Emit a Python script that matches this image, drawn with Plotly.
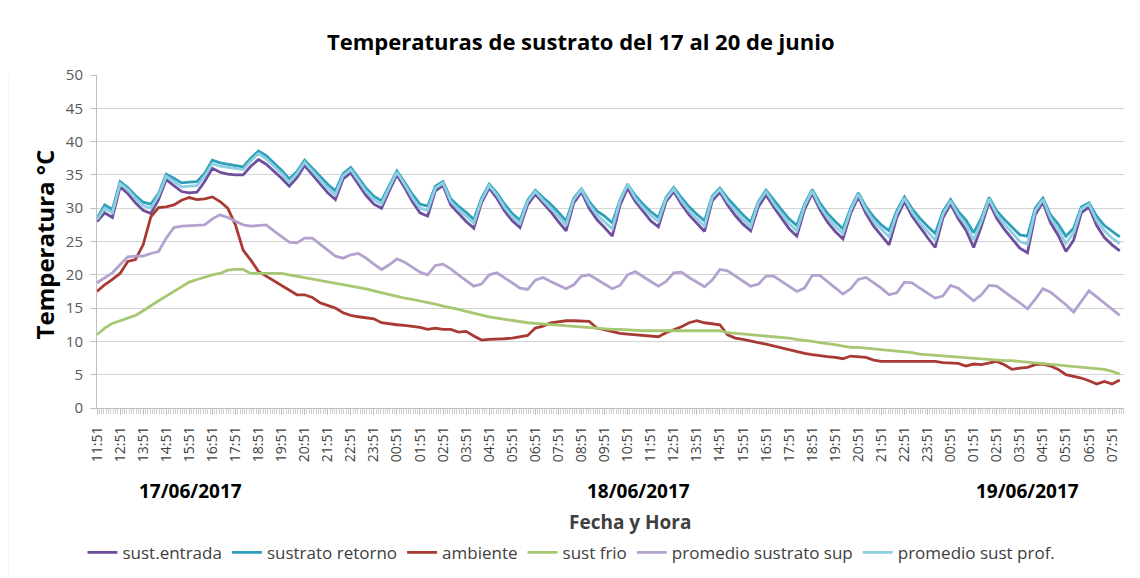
import pandas as pd
import plotly.graph_objects as go

# 20-minute samples starting 17/06/2017 11:51
start_time = "2017-06-17 11:51"
n_points = 134
times = pd.date_range(start_time, periods=n_points, freq="20min")

sust_entrada = [
    28.0, 29.3, 28.6, 33.2, 32.2, 30.8, 29.7, 29.2, 31.3, 34.3,
    33.4, 32.5, 32.3, 32.4, 34.0, 36.0, 35.4, 35.1, 35.0, 35.0,
    36.3, 37.3, 36.6, 35.6, 34.5, 33.3, 34.6, 36.4, 35.0, 33.7,
    32.3, 31.3, 34.4, 35.3, 33.5, 31.9, 30.6, 30.0, 32.6, 35.0,
    33.1, 31.0, 29.3, 28.8, 32.6, 33.4, 30.5, 29.2, 28.0, 27.0,
    30.8, 33.0, 31.5, 29.6, 28.1, 27.1, 30.5, 32.1, 30.8, 29.5,
    28.0, 26.6, 30.8, 32.4, 30.0, 28.3, 27.1, 25.8, 30.4, 33.0,
    31.0, 29.5, 28.1, 27.2, 31.0, 32.5, 30.6, 29.0, 27.7, 26.5,
    31.1, 32.4, 30.5, 28.9, 27.6, 26.6, 30.2, 32.0, 30.2, 28.5,
    26.9, 25.8, 29.8, 32.2, 29.8, 27.9, 26.5, 25.4, 29.2, 31.7,
    29.2, 27.3, 25.9, 24.5, 28.6, 31.0, 28.8, 27.1, 25.6, 24.1,
    28.5, 30.6, 28.4, 26.7, 24.1, 27.3, 30.9, 28.5, 26.8, 25.4,
    24.0, 23.3, 29.0, 30.9, 27.8, 25.9, 23.5, 25.2, 29.3, 30.2,
    27.4, 25.6, 24.5, 23.6,
]

sustrato_retorno = [
    28.5, 30.5, 29.8, 34.0, 33.1, 31.9, 30.9, 30.6, 32.2, 35.1,
    34.5, 33.8, 33.9, 34.0, 35.2, 37.2, 36.8, 36.6, 36.4, 36.2,
    37.5, 38.6, 37.9, 36.8, 35.7, 34.4, 35.5, 37.2, 36.0, 34.8,
    33.6, 32.6, 35.2, 36.1, 34.5, 33.0, 31.8, 31.1, 33.4, 35.6,
    33.9, 32.1, 30.6, 30.3, 33.3, 34.0, 31.4, 30.3, 29.4, 28.3,
    31.5, 33.6, 32.3, 30.6, 29.2, 28.2, 31.2, 32.7, 31.6, 30.6,
    29.4, 28.1, 31.5, 32.9, 31.0, 29.6, 28.8, 27.8, 31.2, 33.6,
    31.9, 30.6, 29.5, 28.6, 31.6, 33.1, 31.6, 30.2, 29.1, 28.1,
    31.8, 33.0, 31.5, 30.2, 29.0, 27.9, 31.0, 32.7, 31.2, 29.8,
    28.4, 27.4, 30.6, 32.8, 30.8, 29.2, 28.0, 26.9, 30.0, 32.3,
    30.2, 28.7, 27.5, 26.6, 29.6, 31.7, 29.9, 28.5, 27.3, 26.2,
    29.5, 31.3, 29.5, 28.2, 26.3, 28.5, 31.6, 29.6, 28.3, 27.2,
    26.0, 25.8, 30.0, 31.5, 29.0, 27.6, 25.8, 27.0, 30.2, 30.8,
    28.8, 27.4, 26.5, 25.7,
]

ambiente = [
    17.5, 18.5, 19.3, 20.2, 22.0, 22.3, 24.5, 28.7, 30.1, 30.2,
    30.5, 31.2, 31.6, 31.3, 31.4, 31.7, 31.0, 30.0, 27.5, 23.7,
    22.2, 20.5, 19.8, 19.1, 18.4, 17.8, 17.0, 17.0, 16.6, 15.8,
    15.4, 15.0, 14.3, 13.9, 13.7, 13.6, 13.4, 12.8, 12.6, 12.5,
    12.4, 12.3, 12.1, 11.8, 12.0, 11.8, 11.8, 11.4, 11.5, 10.8,
    10.2, 10.3, 10.3, 10.4, 10.5, 10.7, 10.9, 12.0, 12.3, 12.8,
    13.0, 13.1, 13.1, 13.0, 13.0, 12.0, 11.7, 11.5, 11.2, 11.1,
    11.0, 11.0, 10.8, 10.7, 11.3, 11.7, 12.2, 12.8, 13.1, 12.8,
    12.7, 12.5, 11.0, 10.5, 10.3, 10.0, 9.8, 9.6, 9.3, 9.0,
    8.8, 8.5, 8.2, 8.0, 7.8, 7.7, 7.6, 7.4, 7.8, 7.7,
    7.6, 7.2, 7.0, 7.0, 7.0, 7.0, 7.0, 7.0, 7.0, 7.0,
    6.8, 6.8, 6.7, 6.3, 6.6, 6.5, 6.8, 7.0, 6.5, 5.8,
    6.0, 6.1, 6.5, 6.6, 6.3, 5.8, 5.0, 4.8, 4.5, 4.1,
    3.6, 4.0, 3.6, 4.2,
]

sust_frio = [
    11.0, 12.0, 12.7, 13.1, 13.4, 13.9, 14.6, 15.4, 16.1, 16.8,
    17.5, 18.2, 18.9, 19.3, 19.7, 20.0, 20.2, 20.7, 20.8, 20.8,
    20.2, 20.2, 20.2, 20.2, 20.2, 20.0, 19.8, 19.6, 19.4, 19.2,
    19.0, 18.8, 18.6, 18.4, 18.2, 17.9, 17.6, 17.3, 17.0, 16.7,
    16.5, 16.3, 16.1, 15.8, 15.6, 15.3, 15.1, 14.8, 14.5, 14.2,
    14.0, 13.7, 13.5, 13.3, 13.1, 13.0, 12.8, 12.7, 12.6, 12.5,
    12.4, 12.3, 12.2, 12.2, 12.1, 12.0, 11.9, 11.8, 11.8, 11.7,
    11.7, 11.6, 11.6, 11.6, 11.6, 11.6, 11.6, 11.6, 11.6, 11.6,
    11.6, 11.6, 11.3, 11.2, 11.1, 11.0, 11.0, 10.9, 10.8, 10.6,
    10.5, 10.3, 10.2, 10.0, 9.8, 9.7, 9.5, 9.3, 9.1, 9.1,
    9.0, 8.9, 8.8, 8.7, 8.5, 8.4, 8.3, 8.1, 8.0, 7.9,
    7.8, 7.7, 7.6, 7.5, 7.4, 7.4, 7.3, 7.2, 7.1, 7.1,
    7.0, 6.9, 6.8, 6.7, 6.6, 6.5, 6.4, 6.3, 6.2, 6.1,
    5.9, 5.8, 5.5, 5.1,
]

promedio_sustrato_sup = [
    18.8, 19.5, 20.3, 21.5, 22.7, 22.8, 22.8, 23.2, 23.5, 25.5,
    27.1, 27.3, 27.4, 27.4, 27.5, 28.4, 29.0, 28.6, 28.0, 27.5,
    27.3, 27.4, 27.5, 26.6, 25.7, 24.9, 24.8, 25.5, 25.5, 24.6,
    23.7, 22.8, 22.5, 23.0, 23.2, 22.5, 21.6, 20.8, 21.5, 22.4,
    21.9, 21.1, 20.4, 20.0, 21.4, 21.6, 20.9, 20.0, 19.1, 18.3,
    18.6, 20.0, 20.3, 19.6, 18.8, 18.0, 17.8, 19.2, 19.6, 19.0,
    18.5, 17.9, 18.5, 19.8, 20.0, 19.3, 18.6, 17.9, 18.4, 20.0,
    20.5, 19.7, 19.0, 18.3, 19.0, 20.3, 20.4, 19.6, 18.9, 18.2,
    19.2, 20.8, 20.6, 19.8, 19.0, 18.3, 18.6, 19.8, 19.8, 19.0,
    18.3, 17.5, 18.0, 19.9, 19.9, 19.0, 18.1, 17.1, 17.9, 19.3,
    19.6, 18.8, 18.0, 17.0, 17.3, 18.9, 18.8, 18.0, 17.3, 16.5,
    16.8, 18.4, 18.0, 17.0, 16.1, 17.0, 18.4, 18.3, 17.4, 16.6,
    15.8, 14.9, 16.3, 17.9, 17.4, 16.5, 15.5, 14.4, 16.0, 17.6,
    16.7, 15.8, 14.8, 13.9,
]

promedio_sust_prof = [
    28.3, 30.0, 29.3, 33.7, 32.8, 31.5, 30.4, 30.0, 31.9, 34.8,
    34.0, 33.2, 33.3, 33.4, 34.8, 36.7, 36.3, 36.1, 35.9, 35.8,
    37.1, 38.2, 37.4, 36.3, 35.2, 33.9, 35.2, 36.9, 35.6, 34.3,
    33.0, 32.0, 34.9, 35.8, 34.1, 32.5, 31.3, 30.6, 33.1, 35.4,
    33.6, 31.6, 30.0, 29.7, 33.0, 33.8, 31.0, 29.8, 28.8, 27.7,
    31.2, 33.4, 32.0, 30.1, 28.7, 27.7, 31.0, 32.5, 31.2, 30.0,
    28.8, 27.4, 31.3, 32.8, 30.6, 29.0, 28.0, 26.9, 31.0, 33.6,
    31.5, 30.1, 28.9, 28.0, 31.4, 32.9, 31.1, 29.6, 28.4, 27.3,
    31.6, 32.8, 31.0, 29.6, 28.3, 27.2, 30.8, 32.5, 30.7, 29.2,
    27.7, 26.6, 30.3, 32.6, 30.3, 28.6, 27.3, 26.2, 29.7, 32.1,
    29.8, 28.0, 26.8, 25.7, 29.2, 31.5, 29.4, 27.8, 26.5, 25.2,
    29.1, 31.1, 29.0, 27.5, 25.2, 28.0, 31.4, 29.1, 27.6, 26.3,
    25.0, 24.6, 29.6, 31.3, 28.5, 26.8, 24.7, 26.3, 29.9, 30.6,
    28.1, 26.6, 25.5, 24.7,
]

series_names = ["sust.entrada", "sustrato retorno", "ambiente", "sust frio",
                "promedio sustrato sup", "promedio sust prof."]
series_values = [sust_entrada, sustrato_retorno, ambiente, sust_frio,
                 promedio_sustrato_sup, promedio_sust_prof]
series_colors = ["#6f4e9e", "#2f9fbb", "#a83a33", "#a6c872", "#b3a2cf", "#8ccfe2"]

date_labels = ["17/06/2017", "18/06/2017", "19/06/2017"]
date_label_pos = [0.091, 0.527, 0.906]

FONT = "Open Sans"

fig = go.Figure()
for name, vals, col in zip(series_names, series_values, series_colors):
    fig.add_trace(go.Scatter(
        x=times, y=vals, name=name, mode="lines",
        line=dict(color=col, width=2.8),
    ))

# page body has an 8px margin, so the figure is sized/offset to compensate
fig.update_layout(
    width=1132, height=570,
    margin=dict(l=89, r=16, t=67, b=170, autoexpand=False),
    paper_bgcolor="white", plot_bgcolor="white",
    font=dict(family=FONT, color="#595959"),
    title=dict(text="<b>Temperaturas de sustrato del 17 al 20 de junio</b>",
               x=0.506, xanchor="center", y=0.940, yanchor="middle",
               font=dict(size=22, color="black", family=FONT)),
    showlegend=True,
    legend=dict(orientation="h", x=0.462, xanchor="center",
                yref="container", y=0.044, yanchor="middle",
                font=dict(size=17, color="#404040", family=FONT),
                itemwidth=30, tracegroupgap=0),
)

fig.update_xaxes(
    type="date", automargin=False,
    range=["2017-06-17 11:51", "2017-06-19 08:22"],
    tick0="2017-06-17 11:51", dtick=3600000, tickformat="%H:%M",
    tickangle=-90, tickfont=dict(size=14, color="#404040", family=FONT),
    ticklabelstandoff=6,
    showgrid=False, showline=True, linecolor="#bfbfbf", linewidth=1,
    ticks="outside", ticklen=6, tickcolor="#bfbfbf",
    minor=dict(ticks="outside", dtick=360000, ticklen=5, tickcolor="#cfcfcf",
               tick0="2017-06-17 11:51", showgrid=False),
    zeroline=False,
)
fig.update_yaxes(
    range=[0, 50], dtick=5, tick0=0, automargin=False,
    tickfont=dict(size=15, color="#595959", family=FONT),
    ticklabelstandoff=4,
    showgrid=True, gridcolor="#d4d4d4", gridwidth=1,
    showline=True, linecolor="#bfbfbf", linewidth=1,
    ticks="outside", ticklen=6, tickcolor="#bfbfbf",
    zeroline=False,
)

# Y axis title
fig.add_annotation(text="<b>Temperatura °C</b>", xref="paper", yref="paper",
                   x=-0.051, y=0.49, textangle=-90, showarrow=False,
                   xanchor="center", yanchor="middle",
                   font=dict(size=24, color="black", family=FONT))
# X axis title
fig.add_annotation(text="<b>Fecha y Hora</b>", xref="paper", yref="paper",
                   x=0.519, y=-0.342, showarrow=False,
                   xanchor="center", yanchor="middle",
                   font=dict(size=19, color="#404040", family=FONT))
# Date group labels
for lab, px in zip(date_labels, date_label_pos):
    fig.add_annotation(text="<b>" + lab + "</b>", xref="paper", yref="paper",
                       x=px, y=-0.249, showarrow=False,
                       xanchor="center", yanchor="middle",
                       font=dict(size=19, color="black", family=FONT))

# chart frame edges
fig.add_shape(type="line", xref="paper", yref="paper",
              x0=-0.087, x1=-0.087, y0=-0.53, y1=1.0,
              line=dict(color="#c8c8c8", width=1))
fig.add_shape(type="line", xref="paper", yref="paper",
              x0=1.012, x1=1.012, y0=-0.53, y1=0.95,
              line=dict(color="#e0e0e0", width=1))

fig.write_html("out.html")
